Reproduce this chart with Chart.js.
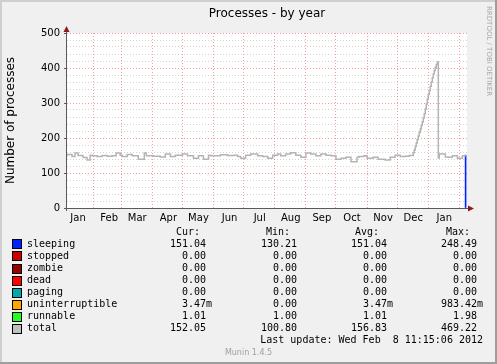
<!DOCTYPE html>
<html>
<head>
<meta charset="utf-8">
<script src="https://cdn.jsdelivr.net/npm/chart.js@4/dist/chart.umd.min.js"></script>
<style>
  html, body { margin: 0; padding: 0; background: #f0f0f0; }
  #wrap { width: 497px; height: 364px; }
</style>
</head>
<body>
<div id="wrap"><canvas id="processes" width="497" height="364"></canvas></div>
<script>
// ============================================================= data

// x axis is in days, day 0 = left edge of the graph (early January)
let monthNames = ["Jan", "Feb", "Mar", "Apr", "May", "Jun", "Jul", "Aug", "Sep", "Oct", "Nov", "Dec", "Jan"];
let monthStarts = [-5, 26, 54, 85, 115, 146, 176, 207, 238, 268, 299, 329, 360, 391];

let yTicks = [0, 100, 200, 300, 400, 500];

// "total" line, value holds from that day until the next one
let totalDays = [0, 5, 8, 11, 16, 20, 23, 25, 30, 35, 40, 45, 49, 53, 55, 60, 65, 71, 77, 79, 86, 93, 98,
  103, 108, 115, 120, 126, 131, 136, 141, 143, 153, 160, 166, 170, 173, 178, 183, 190, 195, 200, 205, 210,
  213, 218, 223, 228, 233, 238, 243, 248, 253, 258, 263, 268, 273, 278, 283, 289, 291, 296, 299, 305, 310,
  317, 322, 327, 332, 337, 341, 345, 346, 347, 348, 349, 350, 351, 352, 353, 354, 355, 356, 357, 358, 359,
  360, 361, 362, 363, 364, 365, 366, 367, 368, 369, 370, 371, 377, 380, 384, 389, 394, 396, 397.5];
let totalValues = [148, 153, 147, 157, 150, 144, 137, 151, 149, 147, 150, 148, 149, 157, 151, 147, 153, 149, 139, 157, 149, 148, 146,
  154, 147, 151, 154, 149, 142, 149, 139, 151, 149, 152, 150, 151, 147, 142, 151, 154, 149, 147, 142, 151,
  154, 149, 154, 158, 151, 145, 157, 154, 149, 154, 151, 149, 139, 142, 145, 132, 145, 147, 149, 142, 145,
  139, 137, 145, 151, 147, 148, 150, 158, 166, 176, 186, 196, 206, 216, 226, 236, 246, 257, 269, 283, 297,
  311, 324, 336, 348, 360, 372, 383, 393, 402, 410, 417, 143, 154, 146, 145, 149, 142, 149, 149];

// sleeping only has data for the last day
let sleepingDays = [397.2];
let sleepingValues = [151.04];

// legend table
let seriesNames = ["sleeping", "stopped", "zombie", "dead", "paging", "uninterruptible", "runnable", "total"];
let seriesColors = ["#0022ff", "#cc0000", "#990000", "#ff0000", "#00aaaa", "#ffa500", "#22ff22", "#c0c0c0"];
let curValues = [151.04, 0, 0, 0, 0, 0.00347, 1.01, 152.05];
let minValues = [130.21, 0, 0, 0, 0, 0, 1.00, 100.80];
let avgValues = [151.04, 0, 0, 0, 0, 0.00347, 1.01, 156.83];
let maxValues = [248.49, 0, 0, 0, 0, 0.98342, 1.98, 469.22];

let lastUpdate = "Last update: Wed Feb  8 11:15:06 2012";

// ============================================================= helpers

let majorGrid = "rgba(235, 80, 80, 0.55)";
let minorGrid = "rgba(120, 120, 120, 0.32)";

let labelDays = monthStarts.slice(0, monthNames.length).map(d => d + 16);
let gridDays = monthStarts.slice(1);

function fmt(v) {
  // rrdtool style: milli suffix for small values
  if (v !== 0 && Math.abs(v) < 1) return [(v * 1000).toFixed(2), "m"];
  return [v.toFixed(2), ""];
}

// ============================================================= plugins

let backgroundPlugin = {
  id: "background",
  beforeDraw(chart) {
    let ctx = chart.ctx, a = chart.chartArea;
    ctx.save();
    ctx.fillStyle = "#f0f0f0";
    ctx.fillRect(0, 0, chart.width, chart.height);
    // frame
    ctx.fillStyle = "#cfcfcf";
    ctx.fillRect(0, 0, chart.width, 2);
    ctx.fillRect(0, 0, 2, chart.height);
    ctx.fillStyle = "#9e9e9e";
    ctx.fillRect(0, chart.height - 2, chart.width, 2);
    ctx.fillRect(chart.width - 2, 0, 2, chart.height);
    ctx.fillStyle = "#ffffff";
    ctx.fillRect(a.left, a.top, a.right - a.left, a.bottom - a.top);
    ctx.restore();
  }
};

let axesPlugin = {
  id: "axesArrows",
  afterDatasetsDraw(chart) {
    let ctx = chart.ctx, a = chart.chartArea;
    ctx.save();
    ctx.strokeStyle = "#5a5a5a";
    ctx.lineWidth = 1;
    ctx.beginPath();
    ctx.moveTo(a.left - 0.5, a.bottom + 3);
    ctx.lineTo(a.left - 0.5, a.top - 2);
    ctx.moveTo(a.left - 3, a.bottom + 0.5);
    ctx.lineTo(a.right + 2, a.bottom + 0.5);
    ctx.stroke();
    ctx.fillStyle = "#8b1c1c";
    ctx.beginPath();
    ctx.moveTo(a.left - 0.5, a.top - 7);
    ctx.lineTo(a.left - 3.5, a.top - 1);
    ctx.lineTo(a.left + 2.5, a.top - 1);
    ctx.closePath();
    ctx.fill();
    ctx.beginPath();
    ctx.moveTo(a.right + 7, a.bottom + 0.5);
    ctx.lineTo(a.right + 1, a.bottom - 2.5);
    ctx.lineTo(a.right + 1, a.bottom + 3.5);
    ctx.closePath();
    ctx.fill();
    ctx.restore();
  }
};

let textPlugin = {
  id: "muninText",
  afterDraw(chart) {
    let ctx = chart.ctx, a = chart.chartArea;
    ctx.save();
    // title
    ctx.fillStyle = "#000";
    ctx.font = '12px "DejaVu Sans"';
    ctx.textAlign = "center";
    ctx.textBaseline = "middle";
    ctx.fillText("Processes - by year", (a.left + a.right) / 2, 14);

    // watermark on the right
    ctx.save();
    ctx.translate(489, 6);
    ctx.rotate(Math.PI / 2);
    ctx.fillStyle = "#a8a8a8";
    ctx.font = '7px "DejaVu Sans"';
    ctx.textAlign = "left";
    ctx.fillText("RRDTOOL / TOBI OETIKER", 0, 0);
    ctx.restore();

    // legend table
    ctx.font = '10px "DejaVu Sans Mono"';
    ctx.fillStyle = "#000";
    ctx.textAlign = "right";
    let headY = 232;
    ctx.fillText("Cur:", 200, headY);
    ctx.fillText("Min:", 290, headY);
    ctx.fillText("Avg:", 379, headY);
    ctx.fillText("Max:", 470, headY);

    let cols = [[curValues, 206], [minValues, 297], [avgValues, 387], [maxValues, 477]];
    for (let i = 0; i < seriesNames.length; i++) {
      let y = 244.4 + i * 12.07;
      ctx.fillStyle = seriesColors[i];
      ctx.fillRect(13, Math.round(y) - 4, 8, 8);
      ctx.strokeStyle = "#000";
      ctx.lineWidth = 1;
      ctx.strokeRect(12.5, Math.round(y) - 4.5, 9, 9);
      ctx.fillStyle = "#000";
      ctx.textAlign = "left";
      ctx.fillText(seriesNames[i], 27, y);
      cols.forEach(([vals, x]) => {
        let [num, suf] = fmt(vals[i]);
        ctx.textAlign = "right";
        ctx.fillText(num, x, y);
        if (suf) {
          ctx.textAlign = "left";
          ctx.fillText(suf, x, y);
        }
      });
    }
    ctx.textAlign = "right";
    ctx.fillText(lastUpdate, 483, 340.7);

    ctx.fillStyle = "#a0a0a0";
    ctx.font = '8px "DejaVu Sans"';
    ctx.textAlign = "center";
    ctx.fillText("Munin 1.4.5", 248.5, 352.5);
    ctx.restore();
  }
};

// ============================================================= chart

Chart.defaults.font.family = '"DejaVu Sans"';
Chart.defaults.color = "#000";

let processes = document.getElementById("processes");

let processesX = {
  datasets: [{
    type: "line",
    label: "total",
    data: totalDays.map((d, i) => ({ x: d, y: totalValues[i] })),
    borderColor: "#b4b4b4",
    borderWidth: 1.5,
    pointRadius: 0,
    stepped: "after",
    fill: false
  }, {
    type: "bar",
    label: "sleeping",
    data: sleepingDays.map((d, i) => ({ x: d, y: sleepingValues[i] })),
    backgroundColor: "#0022ff",
    borderWidth: 0,
    barThickness: 1
  }]
};

let processesY = {
  responsive: false,
  animation: false,
  layout: {
    padding: { top: 33, right: 30, left: 0, bottom: 136 }
  },
  plugins: {
    legend: { display: false },
    tooltip: { enabled: false }
  },
  scales: {
    x: {
      type: "linear",
      min: 0,
      max: 398.6,
      offset: false,
      afterBuildTicks: scale => {
        let t = labelDays.concat(gridDays).sort((p, q) => p - q);
        scale.ticks = t.map(v => ({ value: v }));
      },
      afterFit: scale => { scale.height = 20; },
      grid: {
        offset: false,
        drawTicks: false,
        color: c => (c.tick && gridDays.includes(c.tick.value)) ? majorGrid : "rgba(0,0,0,0)",
        lineWidth: 1
      },
      border: { display: false, dash: [1, 2] },
      ticks: {
        autoSkip: false,
        maxRotation: 0,
        padding: 4,
        font: { size: 10 },
        callback: v => {
          let i = labelDays.indexOf(v);
          return i >= 0 ? monthNames[i] : "";
        }
      }
    },
    y: {
      min: 0,
      max: 500,
      afterFit: scale => { scale.width = 67; },
      grid: {
        drawTicks: true,
        tickLength: 3,
        tickColor: c => (c.tick && yTicks.includes(c.tick.value)) ? "#5a5a5a" : "rgba(0,0,0,0)",
        color: c => (c.tick && yTicks.includes(c.tick.value)) ? majorGrid : minorGrid,
        lineWidth: 1
      },
      border: { display: false, dash: [1, 2] },
      ticks: {
        autoSkip: false,
        stepSize: 20,
        padding: 4,
        font: { size: 10 },
        callback: v => yTicks.includes(v) ? v : ""
      },
      title: {
        display: true,
        text: "Number of processes",
        font: { size: 12 },
        padding: { top: 4, bottom: 0 }
      }
    }
  }
};

let processesChart = new Chart(processes, {
  type: "line",
  data: processesX,
  options: processesY,
  plugins: [backgroundPlugin, axesPlugin, textPlugin]
});
</script>
</body>
</html>
